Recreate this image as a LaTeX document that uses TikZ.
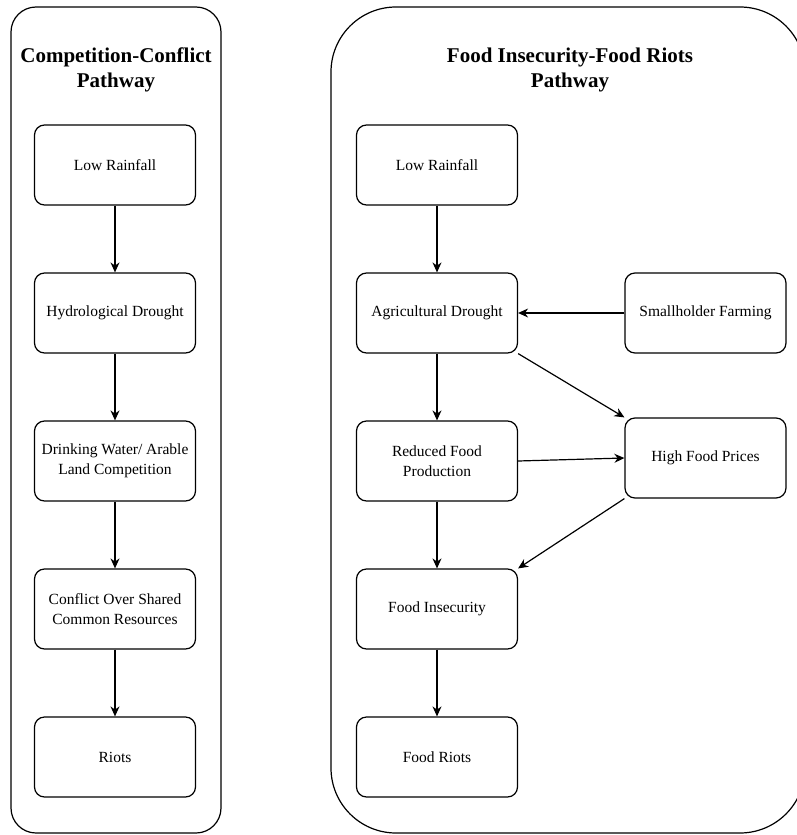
\documentclass[tikz,border=0pt]{standalone}
\usepackage{fontspec}
\setmainfont{Liberation Serif}
\usetikzlibrary{arrows.meta}

\tikzset{
	every step/.style={draw, rectangle, rounded corners=10pt, line width=1.2pt,
		minimum width=161pt, minimum height=80pt, inner sep=2pt, align=center,
		font=\fontsize{15.5}{19.5}\selectfont},
	pathway title/.style={align=center, font=\fontsize{21}{25}\selectfont\bfseries},
	link/.style={-{Stealth[length=10pt, width=9pt]}, line width=1.2pt}
}

\begin{document}
\begin{tikzpicture}[x=1pt, y=-1pt]

			\useasboundingbox (0,0) rectangle (797,835);
			\clip (0,0) rectangle (797,835);

			% containers
			\draw [line width=1.2pt, rounded corners=25pt] (11,7) rectangle (221,833);
			\draw [line width=1.2pt, rounded corners=65pt] (331,7) rectangle (805,833);

			% headings
			\node [pathway title] (title-left) at (116,70) {Competition-Conflict\\Pathway};
			\node [pathway title] (title-right) at (570,70) {Food Insecurity-Food Riots\\Pathway};

			% competition-conflict column
			\foreach \l [count=\y] in {Low Rainfall, Hydrological Drought,
				{Drinking Water/ Arable\\Land Competition},
				{Conflict Over Shared\\Common Resources}, Riots}
				\node [every step] (cc-\y) at (115,17+\y*148) {\l};

			% food insecurity column
			\foreach \l [count=\y] in {Low Rainfall, Agricultural Drought,
				{Reduced Food\\Production}, Food Insecurity, Food Riots}
				\node [every step] (fi-\y) at (437,17+\y*148) {\l};

			% side boxes
			\node [every step] (farming) at (705.5,313) {Smallholder Farming};
			\node [every step] (prices) at (705.5,458) {High Food Prices};

			% lines down the columns
			\foreach \i [evaluate=\i as \j using int(\i+1)] in {1,...,4}
			{
				\draw [link] (cc-\i) -- (cc-\j);
				\draw [link] (fi-\i) -- (fi-\j);
			}

			% lines to and from the side boxes
			\draw [link] (farming) -- (fi-2);
			\draw [link] (fi-2.south east) -- (prices.north west);
			\draw [link] (fi-3.east) -- (prices.west);
			\draw [link] (prices.south west) -- (fi-4.north east);

\end{tikzpicture}
\end{document}
